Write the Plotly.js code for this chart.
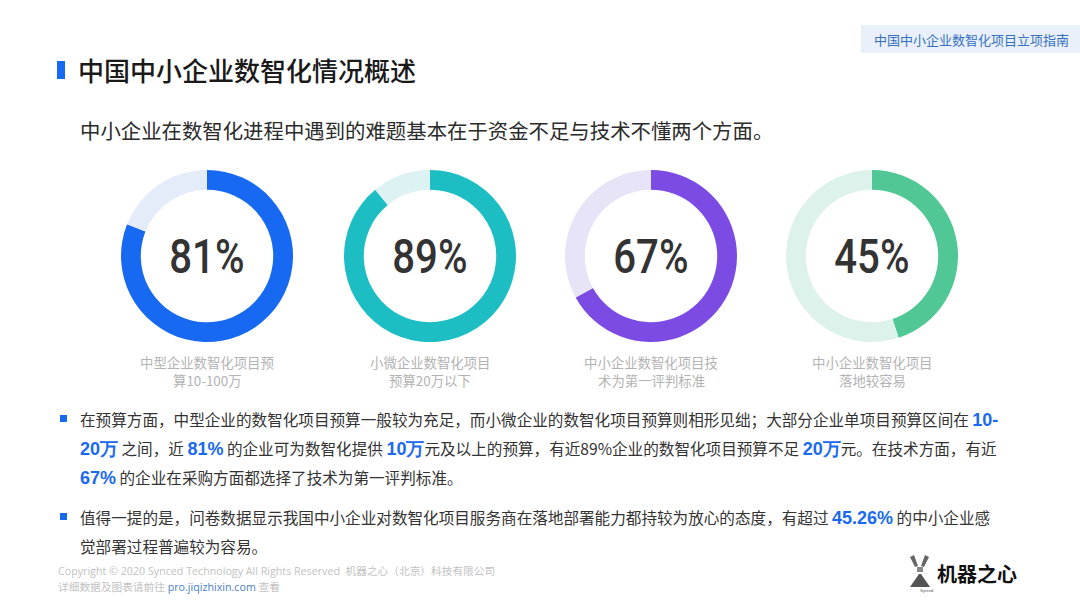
<!DOCTYPE html>
<html>
<head>
<meta charset="utf-8">
<script src="https://cdn.plot.ly/plotly-3.0.1.min.js"></script>
<style>
  html, body { margin: 0; padding: 0; background: #fff; }
  #chart { width: 1080px; height: 608px; }
  .pct-squeeze { transform-box: fill-box; transform-origin: center; transform: scaleX(0.82); }
</style>
</head>
<body>
<div id="chart"></div>
<script>
// share of enterprises per item (percent)
var percents = [81, 89, 67, 45];
var captions = [
    ["中型企业数智化项目预", "算10-100万"],
    ["小微企业数智化项目", "预算20万以下"],
    ["中小企业数智化项目技", "术为第一评判标准"],
    ["中小企业数智化项目", "落地较容易"]
];
var mainColors = ["#1769f2", "#1cbec4", "#7b4be4", "#52c796"];
var restColors = ["#e4ecfa", "#ddf2f3", "#e7e4f7", "#ddf2eb"];

var W = 1080, H = 608;
var centersX = [207, 430, 651, 872];
var centerY = 256;
var radius = 86;

var cjk = "Noto Sans CJK SC, sans-serif";

function px(x) { return x / W; }
function py(y) { return 1 - y / H; }

var traces = [];
var annotations = [];
var shapes = [];

// big percentages first, so they are the first annotation nodes
for (let i = 0; i < percents.length; i++) {
    annotations.push({
        text: percents[i] + "%",
        x: px(centersX[i]), y: py(centerY),
        xref: "paper", yref: "paper", showarrow: false,
        xanchor: "center", yanchor: "middle",
        font: {family: "Roboto, sans-serif", size: 49, weight: 500, color: "#333333"}
    });
}

for (let i = 0; i < percents.length; i++) {
    traces.push({
        type: "pie",
        values: [percents[i], 100 - percents[i]],
        labels: ["yes", "no"],
        marker: {colors: [mainColors[i], restColors[i]], line: {width: 0}},
        hole: 0.77,
        sort: false,
        direction: "clockwise",
        rotation: 0,
        textinfo: "none",
        hoverinfo: "none",
        showlegend: false,
        domain: {
            x: [px(centersX[i] - radius), px(centersX[i] + radius)],
            y: [py(centerY + radius), py(centerY - radius)]
        }
    });
    for (let k = 0; k < 2; k++) {
        annotations.push({
            text: captions[i][k],
            x: px(centersX[i]), y: py(362 + k * 18),
            xref: "paper", yref: "paper", showarrow: false,
            xanchor: "center", yanchor: "middle",
            borderpad: 0,
            font: {family: cjk, size: 13.4, color: "#b3b3b3"}
        });
    }
}

function hl(s) {
    return '<span style="color:#1a6af0;font-size:18px;font-weight:bold;font-family:Liberation Sans, sans-serif">' + s + '</span>';
}

var bodyLines = [
    "在预算方面，中型企业的数智化项目预算一般较为充足，而小微企业的数智化项目预算则相形见绌；大部分企业单项目预算区间在 " + hl("10-"),
    hl("20万") + " 之间，近 " + hl("81%") + " 的企业可为数智化提供 " + hl("10万") + "元及以上的预算，有近89%企业的数智化项目预算不足 " + hl("20万") + "元。在技术方面，有近",
    hl("67%") + " 的企业在采购方面都选择了技术为第一评判标准。",
    "值得一提的是，问卷数据显示我国中小企业对数智化项目服务商在落地部署能力都持较为放心的态度，有超过 " + hl("45.26%") + " 的中小企业感",
    "觉部署过程普遍较为容易。"
];
var bodyY = [419, 448, 477, 517, 546];

for (let i = 0; i < bodyLines.length; i++) {
    annotations.push({
        text: bodyLines[i],
        x: px(78), y: py(bodyY[i]),
        xref: "paper", yref: "paper", showarrow: false,
        xanchor: "left", yanchor: "middle", align: "left",
        font: {family: cjk, size: 15.6, color: "#333333"}
    });
}

// title, subtitle, tag
annotations.push({
    text: "中国中小企业数智化情况概述",
    x: px(76), y: py(69), xref: "paper", yref: "paper", showarrow: false,
    xanchor: "left", yanchor: "middle",
    font: {family: cjk, size: 26, color: "#1a1a1a", weight: 500}
});
annotations.push({
    text: "中小企业在数智化进程中遇到的难题基本在于资金不足与技术不懂两个方面。",
    x: px(78), y: py(130), xref: "paper", yref: "paper", showarrow: false,
    xanchor: "left", yanchor: "middle",
    font: {family: cjk, size: 20.4, color: "#2b2b2b"}
});
annotations.push({
    text: "中国中小企业数智化项目立项指南",
    x: px(971), y: py(40), xref: "paper", yref: "paper", showarrow: false,
    xanchor: "center", yanchor: "middle",
    font: {family: cjk, size: 13, color: "#3570c0"}
});

// footer
annotations.push({
    text: "Copyright © 2020 Synced Technology All Rights Reserved  机器之心（北京）科技有限公司",
    x: px(56), y: py(571), xref: "paper", yref: "paper", showarrow: false,
    xanchor: "left", yanchor: "middle",
    font: {family: "Open Sans, " + cjk, size: 10.7, color: "#c2c2c2"}
});
annotations.push({
    text: '详细数据及图表请前往 <span style="color:#4a80c8">pro.jiqizhixin.com</span> 查看',
    x: px(56), y: py(587), xref: "paper", yref: "paper", showarrow: false,
    xanchor: "left", yanchor: "middle",
    font: {family: "Open Sans, " + cjk, size: 10.7, color: "#c2c2c2"}
});
annotations.push({
    text: "<b>机器之心</b>",
    x: px(935), y: py(573), xref: "paper", yref: "paper", showarrow: false,
    xanchor: "left", yanchor: "middle",
    font: {family: cjk, size: 20, color: "#111111"}
});
annotations.push({
    text: "Synced",
    x: px(926), y: py(590), xref: "paper", yref: "paper", showarrow: false,
    xanchor: "center", yanchor: "middle",
    font: {family: "Liberation Sans, sans-serif", size: 4, color: "#555555"}
});

// decorations
shapes.push({type: "rect", xref: "paper", yref: "paper",
    x0: px(57), x1: px(65), y0: py(79), y1: py(61),
    fillcolor: "#1769f2", line: {width: 0}});
shapes.push({type: "rect", xref: "paper", yref: "paper",
    x0: px(861), x1: px(1080), y0: py(53), y1: py(25),
    fillcolor: "#e9f0fa", line: {width: 0}});
shapes.push({type: "rect", xref: "paper", yref: "paper",
    x0: px(60), x1: px(67), y0: py(422), y1: py(415),
    fillcolor: "#1769f2", line: {width: 0}});
shapes.push({type: "rect", xref: "paper", yref: "paper",
    x0: px(60), x1: px(67), y0: py(520), y1: py(513),
    fillcolor: "#1769f2", line: {width: 0}});

// logo mark
function pathFromPts(pts) {
    var s = "";
    for (let i = 0; i < pts.length; i++) {
        s += (i === 0 ? "M" : "L") + px(pts[i][0]) + "," + py(pts[i][1]);
    }
    return s + "Z";
}
shapes.push({type: "path", xref: "paper", yref: "paper",
    path: pathFromPts([[910, 557], [914, 555], [918, 566], [915, 567]]),
    fillcolor: "#666666", line: {width: 0}});
shapes.push({type: "path", xref: "paper", yref: "paper",
    path: pathFromPts([[925, 555], [929, 557], [924, 567], [921, 566]]),
    fillcolor: "#666666", line: {width: 0}});
shapes.push({type: "path", xref: "paper", yref: "paper",
    path: pathFromPts([[917, 567], [923, 567], [923, 572], [917, 572]]),
    fillcolor: "#888888", line: {width: 0}});
shapes.push({type: "path", xref: "paper", yref: "paper",
    path: pathFromPts([[919, 574], [921, 574], [930, 587], [910, 587]]),
    fillcolor: "#555555", line: {width: 0}});

var layout = {
    width: W, height: H,
    margin: {l: 0, r: 0, t: 0, b: 0},
    paper_bgcolor: "#ffffff",
    plot_bgcolor: "#ffffff",
    showlegend: false,
    annotations: annotations,
    shapes: shapes
};

Plotly.newPlot("chart", traces, layout, {staticPlot: true}).then(function(gd) {
    // the reference uses a condensed face for the big numbers
    var texts = gd.querySelectorAll(".annotation-text");
    for (let i = 0; i < percents.length; i++) {
        texts[i].classList.add("pct-squeeze");
    }
});
</script>
</body>
</html>
